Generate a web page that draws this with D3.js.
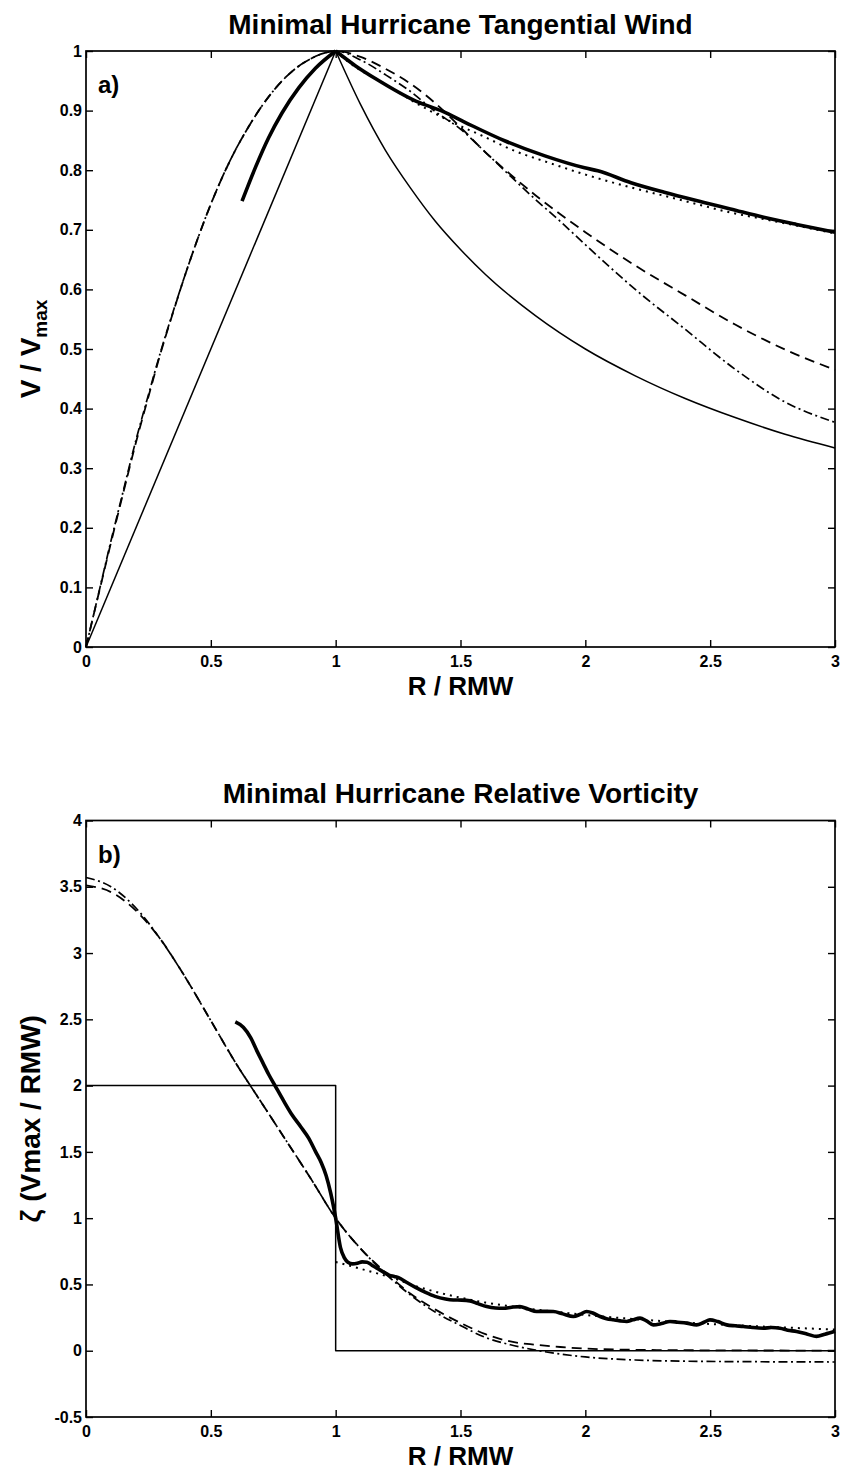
<!DOCTYPE html>
<html>
<head>
<meta charset="utf-8">
<script src="https://cdn.jsdelivr.net/npm/d3@7"></script>
<style>
  html, body { margin: 0; padding: 0; background: #fff; }
  svg { display: block; }
  text { font-family: "Liberation Sans", Arial, Helvetica, sans-serif; fill: #000; }
</style>
</head>
<body>
<svg id="fig" width="841" height="1471"></svg>
<script>
// ---------------- axis ticks ----------------
const radiusTicks = [0, 0.5, 1, 1.5, 2, 2.5, 3];
const windTicks = [0, 0.1, 0.2, 0.3, 0.4, 0.5, 0.6, 0.7, 0.8, 0.9, 1];
const vortTicks = [-0.5, 0, 0.5, 1, 1.5, 2, 2.5, 3, 3.5, 4];

// ---------------- (a) tangential wind, V / Vmax against R / RMW ----------------
const windRankine = [
  [0, 0], [1, 1], [1.1, 0.91], [1.2, 0.833], [1.3, 0.77], [1.4, 0.714], [1.5, 0.667],
  [1.6, 0.625], [1.8, 0.556], [2.0, 0.5], [2.2, 0.455], [2.4, 0.417], [2.6, 0.385],
  [2.8, 0.357], [3.0, 0.334]
];
const windObserved = [
  [0.625, 0.748], [0.677, 0.803], [0.731, 0.854], [0.785, 0.896], [0.852, 0.938],
  [0.919, 0.971], [1, 1], [1.08, 0.975], [1.162, 0.953], [1.321, 0.916], [1.427, 0.899],
  [1.52, 0.88], [1.679, 0.849], [1.838, 0.824], [1.997, 0.804], [2.05, 0.799],
  [2.183, 0.779], [2.316, 0.763], [2.475, 0.746], [2.581, 0.735], [2.714, 0.721],
  [2.846, 0.709], [3.0, 0.696]
];
const windPowerLaw = [
  [1, 1], [1.056, 0.98], [1.188, 0.947], [1.321, 0.913], [1.454, 0.883], [1.586, 0.858],
  [1.719, 0.832], [1.851, 0.813], [1.997, 0.793], [2.183, 0.771], [2.316, 0.757],
  [2.448, 0.743], [2.581, 0.729], [2.714, 0.718], [2.846, 0.707], [3.0, 0.694]
];
const windDashed = [
  [0, 0], [0.05, 0.088], [0.1, 0.175], [0.15, 0.26], [0.2, 0.343], [0.25, 0.42],
  [0.3, 0.495], [0.35, 0.563], [0.4, 0.628], [0.45, 0.688], [0.5, 0.743], [0.55, 0.792],
  [0.6, 0.835], [0.65, 0.872], [0.7, 0.905], [0.75, 0.933], [0.8, 0.956], [0.85, 0.974],
  [0.9, 0.987], [0.95, 0.996], [1, 1], [1.1, 0.99], [1.2, 0.97], [1.3, 0.945],
  [1.4, 0.912], [1.5, 0.872], [1.6, 0.83], [1.7, 0.793], [1.8, 0.758], [1.9, 0.726],
  [2.0, 0.696], [2.2, 0.64], [2.4, 0.59], [2.6, 0.541], [2.8, 0.499], [3.0, 0.465]
];
const windDashDot = [
  [0, 0], [0.05, 0.089], [0.1, 0.178], [0.15, 0.263], [0.2, 0.347], [0.25, 0.423],
  [0.3, 0.497], [0.35, 0.564], [0.4, 0.628], [0.45, 0.688], [0.5, 0.743], [0.55, 0.792],
  [0.6, 0.835], [0.65, 0.872], [0.7, 0.905], [0.75, 0.933], [0.8, 0.956], [0.85, 0.974],
  [0.9, 0.987], [0.95, 0.996], [1, 1], [1.1, 0.985], [1.2, 0.96], [1.3, 0.932],
  [1.4, 0.898], [1.5, 0.869], [1.6, 0.83], [1.7, 0.79], [1.8, 0.751], [1.9, 0.714],
  [2.0, 0.675], [2.2, 0.6], [2.4, 0.533], [2.6, 0.466], [2.8, 0.411], [3.0, 0.377]
];

// ---------------- (b) relative vorticity, in Vmax / RMW ----------------
const vortRankine = [[0, 2], [1, 2], [1, 0], [3, 0]];
const vortObserved = [
  [0.598, 2.48], [0.63, 2.44], [0.66, 2.36], [0.685, 2.26], [0.709, 2.17], [0.733, 2.08],
  [0.757, 2.0], [0.79, 1.89], [0.825, 1.78], [0.86, 1.69], [0.893, 1.6], [0.92, 1.5],
  [0.942, 1.42], [0.962, 1.32], [0.98, 1.19], [1.0, 1.0], [1.019, 0.78], [1.035, 0.7],
  [1.049, 0.667], [1.068, 0.655], [1.087, 0.66], [1.106, 0.67], [1.126, 0.668],
  [1.145, 0.645], [1.165, 0.623], [1.19, 0.595], [1.214, 0.57], [1.235, 0.56],
  [1.252, 0.551], [1.285, 0.515], [1.32, 0.478], [1.36, 0.44], [1.398, 0.41],
  [1.44, 0.39], [1.471, 0.383], [1.505, 0.382], [1.538, 0.376], [1.57, 0.355],
  [1.605, 0.333], [1.64, 0.322], [1.672, 0.32], [1.705, 0.328], [1.738, 0.333],
  [1.77, 0.315], [1.805, 0.296], [1.84, 0.297], [1.872, 0.296], [1.91, 0.278],
  [1.952, 0.258], [1.98, 0.275], [2.005, 0.296], [2.03, 0.285], [2.059, 0.258],
  [2.085, 0.242], [2.112, 0.233], [2.14, 0.225], [2.166, 0.221], [2.19, 0.233],
  [2.219, 0.246], [2.245, 0.225], [2.272, 0.195], [2.305, 0.205], [2.339, 0.221],
  [2.37, 0.215], [2.406, 0.208], [2.446, 0.195], [2.475, 0.215], [2.499, 0.233],
  [2.53, 0.22], [2.566, 0.195], [2.6, 0.188], [2.633, 0.183], [2.67, 0.175],
  [2.713, 0.17], [2.745, 0.175], [2.78, 0.17], [2.81, 0.155], [2.846, 0.145],
  [2.89, 0.125], [2.926, 0.108], [2.96, 0.125], [3.0, 0.147]
];
const vortPowerLaw = [
  [1.0, 0.67], [1.05, 0.645], [1.1, 0.618], [1.15, 0.592], [1.2, 0.565], [1.25, 0.535],
  [1.3, 0.5], [1.4, 0.445], [1.5, 0.4], [1.6, 0.363], [1.7, 0.335], [1.8, 0.31],
  [1.9, 0.29], [2.0, 0.27], [2.2, 0.238], [2.4, 0.212], [2.6, 0.192], [2.8, 0.175],
  [3.0, 0.16]
];
const vortDashed = [
  [0, 3.51], [0.1, 3.46], [0.2, 3.32], [0.3, 3.1], [0.4, 2.81], [0.5, 2.49], [0.6, 2.17],
  [0.7, 1.88], [0.8, 1.59], [0.9, 1.3], [1.0, 1.0], [1.1, 0.77], [1.2, 0.59], [1.3, 0.43],
  [1.4, 0.31], [1.5, 0.21], [1.6, 0.125], [1.7, 0.07], [1.8, 0.045], [1.9, 0.028],
  [2.0, 0.016], [2.2, 0.007], [2.5, 0.003], [3.0, 0.001]
];
const vortDashDot = [
  [0, 3.57], [0.1, 3.5], [0.2, 3.34], [0.3, 3.1], [0.4, 2.81], [0.5, 2.49], [0.6, 2.17],
  [0.7, 1.88], [0.8, 1.59], [0.9, 1.3], [1.0, 1.0], [1.1, 0.77], [1.2, 0.58], [1.3, 0.42],
  [1.4, 0.29], [1.5, 0.19], [1.6, 0.1], [1.7, 0.045], [1.8, 0.005], [1.9, -0.025],
  [2.0, -0.047], [2.2, -0.07], [2.4, -0.079], [2.6, -0.082], [2.8, -0.084], [3.0, -0.085]
];

// ---------------- line styles ----------------
const LINE = {
  thin:    { width: 1.5, dash: null },
  thick:   { width: 3.6, dash: null },
  dashed:  { width: 1.8, dash: "10,6" },
  dashdot: { width: 1.7, dash: "9,3.5,2,3.5" },
  dotted:  { width: 2.0, dash: "2,5" }
};

const FONT = '"Liberation Sans", Arial, Helvetica, sans-serif';
const svg = d3.select("#fig");
const plotLeft = 86, plotRight = 835;

const panels = [
  {
    top: 51, bottom: 647, domain: [0, 1], yTicks: windTicks,
    title: "Minimal Hurricane Tangential Wind", tag: "a)", ylabel: "wind",
    series: [
      { data: windRankine,  line: "thin",    breaks: [1] },
      { data: windDashed,   line: "dashed",  breaks: [] },
      { data: windDashDot,  line: "dashdot", breaks: [] },
      { data: windPowerLaw, line: "dotted",  breaks: [] },
      { data: windObserved, line: "thick",   breaks: [1] }
    ]
  },
  {
    top: 820.5, bottom: 1417, domain: [-0.5, 4], yTicks: vortTicks,
    title: "Minimal Hurricane Relative Vorticity", tag: "b)", ylabel: "vort",
    series: [
      { data: vortRankine,  line: "thin",    breaks: [], linear: true },
      { data: vortDashed,   line: "dashed",  breaks: [] },
      { data: vortDashDot,  line: "dashdot", breaks: [] },
      { data: vortPowerLaw, line: "dotted",  breaks: [] },
      { data: vortObserved, line: "thick",   breaks: [] }
    ]
  }
];

const tickFmt = d => String(d);

// split a profile where its slope jumps (the peak of a cusp), so the smoother
// does not round the corner off
function splitAt(points, breaks) {
  if (!breaks.length) return [points];
  const segs = [];
  let cur = [];
  points.forEach(p => {
    cur.push(p);
    if (breaks.includes(p[0]) && cur.length > 1) { segs.push(cur); cur = [p]; }
  });
  if (cur.length > 1) segs.push(cur);
  return segs;
}

panels.forEach(p => {
  const x = d3.scaleLinear().domain([0, 3]).range([plotLeft, plotRight]);
  const y = d3.scaleLinear().domain(p.domain).range([p.bottom, p.top]);
  const g = svg.append("g");

  // axes: inward ticks on all four sides, labels bottom and left
  const axB = d3.axisBottom(x).tickValues(radiusTicks).tickSizeInner(-7).tickSizeOuter(0)
    .tickPadding(9).tickFormat(tickFmt);
  const axT = d3.axisTop(x).tickValues(radiusTicks).tickSizeInner(-7).tickSizeOuter(0).tickFormat("");
  const axL = d3.axisLeft(y).tickValues(p.yTicks).tickSizeInner(-7).tickSizeOuter(0)
    .tickPadding(4).tickFormat(tickFmt);
  const axR = d3.axisRight(y).tickValues(p.yTicks).tickSizeInner(-7).tickSizeOuter(0).tickFormat("");

  const axes = [
    [axB, `translate(0,${p.bottom})`],
    [axT, `translate(0,${p.top})`],
    [axL, `translate(${plotLeft},0)`],
    [axR, `translate(${plotRight},0)`]
  ];
  axes.forEach(([ax, tr]) => {
    const a = g.append("g").attr("transform", tr).call(ax);
    a.select(".domain").remove();
    a.attr("font-size", 16);
    a.selectAll(".tick line").attr("stroke", "#000").attr("stroke-width", 1.4);
    a.selectAll(".tick text")
      .attr("font-family", FONT).attr("font-size", 16).attr("font-weight", "bold").attr("fill", "#000");
  });

  // profiles
  p.series.forEach(s => {
    const st = LINE[s.line];
    const gen = d3.line()
      .x(d => x(d[0])).y(d => y(d[1]))
      .curve(s.linear ? d3.curveLinear : d3.curveMonotoneX);
    splitAt(s.data, s.breaks).forEach(seg => {
      g.append("path")
        .attr("d", gen(seg))
        .attr("fill", "none")
        .attr("stroke", "#000")
        .attr("stroke-width", st.width)
        .attr("stroke-linejoin", "round")
        .attr("stroke-dasharray", st.dash);
    });
  });

  // frame
  g.append("rect")
    .attr("x", plotLeft).attr("y", p.top)
    .attr("width", plotRight - plotLeft).attr("height", p.bottom - p.top)
    .attr("fill", "none").attr("stroke", "#000").attr("stroke-width", 1.7);

  // title, panel tag, axis labels
  g.append("text")
    .attr("x", (plotLeft + plotRight) / 2).attr("y", p.top - 17.5)
    .attr("text-anchor", "middle").attr("font-size", 28).attr("font-weight", "bold")
    .text(p.title);

  g.append("text")
    .attr("x", plotLeft + 12).attr("y", p.top + 42)
    .attr("font-size", 24).attr("font-weight", "bold")
    .text(p.tag);

  g.append("text")
    .attr("x", (plotLeft + plotRight) / 2).attr("y", p.bottom + 48)
    .attr("text-anchor", "middle").attr("font-size", 26).attr("font-weight", "bold")
    .text("R / RMW");

  const yl = g.append("text")
    .attr("transform", `translate(40,${(p.top + p.bottom) / 2}) rotate(-90)`)
    .attr("text-anchor", "middle").attr("font-size", 28).attr("font-weight", "bold");
  if (p.ylabel === "wind") {
    yl.append("tspan").text("V / V");
    yl.append("tspan").attr("font-size", 19).attr("dy", 7).text("max");
  } else {
    yl.text("ζ (Vmax / RMW)");
  }
});
</script>
</body>
</html>
